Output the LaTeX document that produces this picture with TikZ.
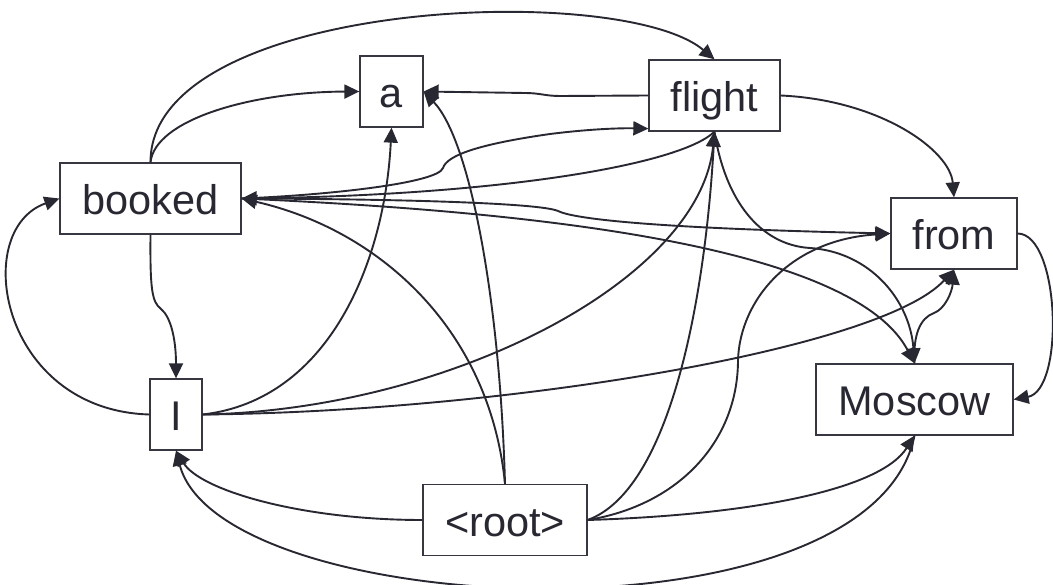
\documentclass[tikz,border=0pt]{standalone}
\usepackage{fontspec}
\setmainfont{Liberation Sans}
\usetikzlibrary{arrows.meta}
\definecolor{ink}{RGB}{40,40,50}
\definecolor{boxline}{RGB}{55,55,65}
\begin{document}
\begin{tikzpicture}[x=1pt,y=-1pt,
  word/.style={draw=boxline, line width=1.3pt, fill=white, minimum height=71pt,
    inner sep=0pt, text height=32pt, text depth=0pt,
    font=\fontsize{41.5}{48}\selectfont, text=ink},
  edge/.style={draw=ink, line width=1.9pt, -{Triangle[length=15pt,width=14pt]}}]
\useasboundingbox (0,0) rectangle (1053,585);
\fill[white] (0,0) rectangle (1053,585);

\node[word, minimum width=181pt] (booked) at (150.5,198.5) {booked};
\node[word, minimum width=63pt]  (a)      at (391.5,91.5)  {a};
\node[word, minimum width=131pt] (flight) at (714.5,95.5)  {flight};
\node[word, minimum width=126pt] (from)   at (954,233.5)   {from};
\node[word, minimum width=197pt] (Moscow) at (914.5,399.5) {Moscow};
\node[word, minimum width=52pt]  (I)      at (176,414.5)   {I};
\node[word, minimum width=164pt] (root)   at (505,520)     {<root>};

% booked -> flight (top arc)
\draw[edge] (booked.north) .. controls (150,0) and (620,-20) .. (flight.north);
% booked -> a
\draw[edge] (booked.north) .. controls (155,120) and (250,92) .. (a.west);
% flight -> a
\draw[edge] (flight.west) -- (560,96) .. controls (545,96) and (540,93) .. (525,93) -- (a.east);
% booked -> flight (kinked)
\draw[edge] (booked.east) .. controls (330,195) and (438,183) .. (443,168)
  .. controls (447,155) and (480,144) .. (550,134)
  .. controls (590,129) and (620,128) .. ([yshift=3pt]flight.south west);
% flight -> booked
\draw[edge] (flight.south) .. controls (680,165) and (500,195) .. (booked.east);
% booked -> from (kinked)
\draw[edge] (booked.east) .. controls (400,199) and (540,203) .. (558,211)
  .. controls (572,218) and (640,228) .. (from.west);
% booked -> Moscow
\draw[edge] (booked.east) .. controls (500,210) and (850,240) .. (Moscow.north);
% I -> booked
\draw[edge] (I.west) .. controls (0,410) and (-30,230) .. (booked.west);
% booked -> I
\draw[edge] (booked.south) .. controls (150,290) and (152,302) .. (161,309)
  .. controls (171,317) and (176,340) .. (I.north);
% I -> a
\draw[edge] (I.east) .. controls (330,400) and (385,260) .. (a.south);
% I -> flight
\draw[edge] (I.east) .. controls (450,410) and (700,280) .. (flight.south);
% I -> from
\draw[edge] (I.east) .. controls (500,412) and (880,350) .. (from.south);
% root -> a
\draw[edge] (root.north) .. controls (500,300) and (470,140) .. (a.east);
% root -> booked
\draw[edge] (root.north) .. controls (490,330) and (380,230) .. (booked.east);
% root -> I
\draw[edge] (root.west) .. controls (300,520) and (200,490) .. (I.south);
% Moscow -> I (bottom arc)
\draw[edge] (Moscow.south) .. controls (870,650) and (220,620) .. (I.south);
% root -> Moscow
\draw[edge] (root.east) .. controls (750,515) and (880,490) .. (Moscow.south);
% root -> flight
\draw[edge] (root.east) .. controls (670,490) and (705,300) .. (flight.south);
% root -> from
\draw[edge] (root.east) .. controls (680,505) and (738,440) .. (738,360)
  .. controls (740,300) and (790,240) .. (from.west);
% flight -> from
\draw[edge] (flight.east) .. controls (880,100) and (950,150) .. (from.north);
% from -> Moscow
\draw[edge] (from.east) .. controls (1060,234) and (1065,390) .. (Moscow.east);
% Moscow -> from
\draw[edge] (Moscow.north) .. controls (913,335) and (920,318) .. (934,313)
  .. controls (945,309) and (952,292) .. (from.south);
% flight -> Moscow
\draw[edge] (flight.south) .. controls (725,200) and (760,245) .. (810,248)
  .. controls (870,252) and (910,300) .. (Moscow.north);
\end{tikzpicture}
\end{document}
